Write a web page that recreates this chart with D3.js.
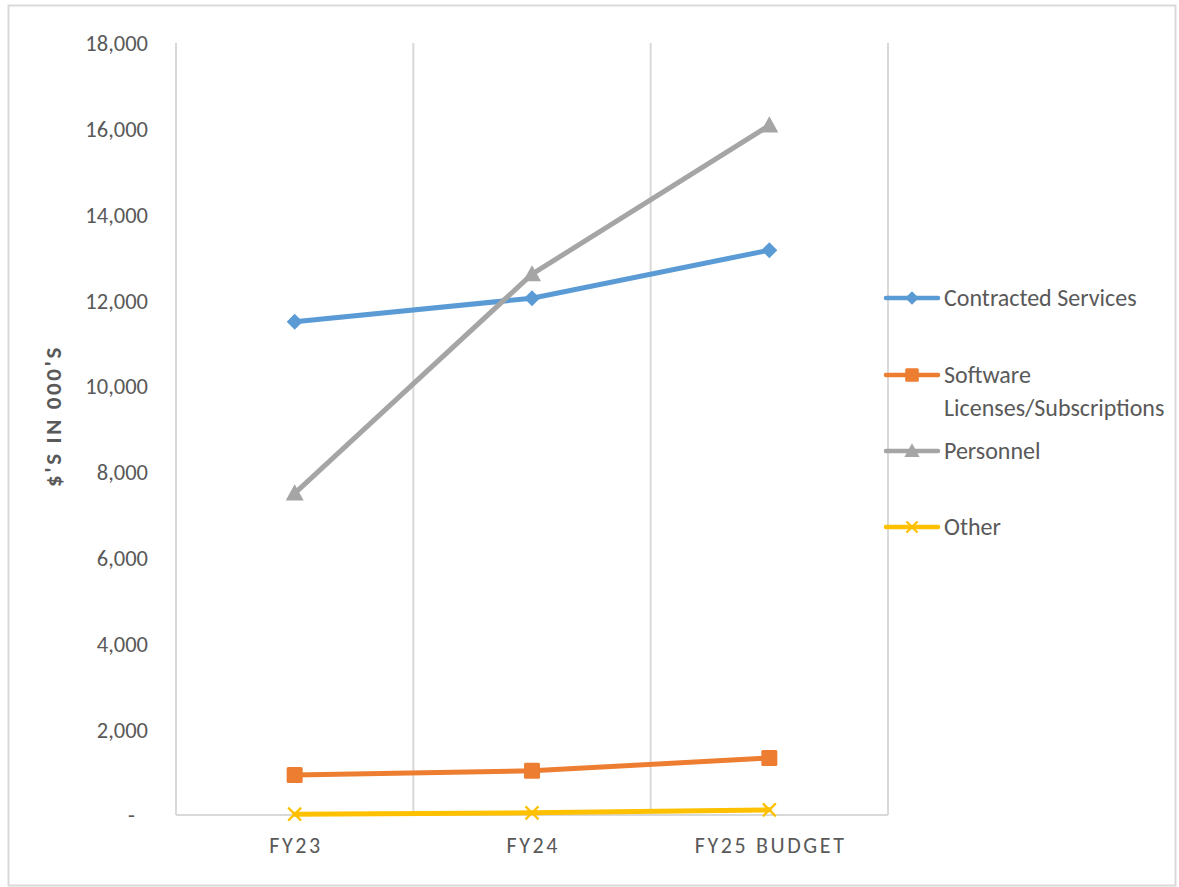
<!DOCTYPE html>
<html>
<head>
<meta charset="utf-8">
<script src="https://cdn.jsdelivr.net/npm/d3@7"></script>
<style>
  html, body { margin: 0; padding: 0; background: #fff; }
  svg { display: block; }
  .tick text { font-family: Carlito, Calibri, "Open Sans", "Liberation Sans", sans-serif; }
</style>
</head>
<body>
<svg id="chart" width="1179" height="887"></svg>
<script>
// Fiscal-year periods on the category axis
const periods = ["FY23", "FY24", "FY25 BUDGET"];

// Spending per category, $ in thousands
const contractedServices = [11500, 12050, 13170];
const softwareLicenses   = [930, 1030, 1330];
const personnel          = [7500, 12610, 16080];
const other              = [20, 50, 120];

const yTicks = [0, 2000, 4000, 6000, 8000, 10000, 12000, 14000, 16000, 18000];

const series = [
  { name: ["Contracted Services"], values: contractedServices, color: "#5B9BD5", marker: "diamond" },
  { name: ["Software", "Licenses/Subscriptions"], values: softwareLicenses, color: "#ED7D31", marker: "square" },
  { name: ["Personnel"], values: personnel, color: "#A5A5A5", marker: "triangle" },
  { name: ["Other"], values: other, color: "#FFC000", marker: "x" }
];

const svg = d3.select("#chart");
const font = 'Carlito, Calibri, "Open Sans", "Liberation Sans", sans-serif';

// Outer chart frame
svg.append("rect")
  .attr("x", 8.5).attr("y", 5.5)
  .attr("width", 1167).attr("height", 880)
  .attr("fill", "#fff").attr("stroke", "#D9D9D9").attr("stroke-width", 2);

const plot = { left: 176, right: 888, top: 43, bottom: 815 };

const x = d3.scaleBand().domain(periods).range([plot.left, plot.right]).padding(0);
const y = d3.scaleLinear().domain([0, 18000]).range([plot.bottom, plot.top]);

// Vertical category dividers
const dividers = [plot.left, ...periods.map(p => x(p) + x.bandwidth())];
svg.append("g").selectAll("line").data(dividers).join("line")
  .attr("x1", d => d).attr("x2", d => d)
  .attr("y1", plot.top).attr("y2", plot.bottom)
  .attr("stroke", "#D9D9D9").attr("stroke-width", 2);

// Category baseline
svg.append("line")
  .attr("x1", plot.left).attr("x2", plot.right)
  .attr("y1", plot.bottom).attr("y2", plot.bottom)
  .attr("stroke", "#D9D9D9").attr("stroke-width", 2);

// Y axis labels
const yAxis = d3.axisLeft(y).tickValues(yTicks).tickSize(0).tickPadding(0)
  .tickFormat(d => d === 0 ? "-" : d3.format(",")(d));
const yG = svg.append("g").attr("transform", `translate(${plot.left - 28},0)`).call(yAxis);
yG.select(".domain").remove();
yG.selectAll("text").attr("fill", "#595959").attr("font-size", 22.5)
  .attr("dy", "0.35em")
  .filter(d => d === 0).attr("dx", -13);

// X axis labels
const xAxis = d3.axisBottom(x).tickSize(0).tickPadding(0);
const xG = svg.append("g").attr("transform", `translate(0,${plot.bottom + 22})`).call(xAxis);
xG.select(".domain").remove();
xG.selectAll("text").attr("fill", "#595959").attr("font-size", 22)
  .attr("letter-spacing", "2.6px").attr("dy", "0.71em").attr("dx", "1.3px");

// Y axis title
svg.append("text")
  .attr("transform", `translate(61,416) rotate(-90)`)
  .attr("text-anchor", "middle")
  .attr("font-family", font).attr("font-size", 23).attr("font-weight", "bold")
  .attr("letter-spacing", "2.6px")
  .attr("fill", "#595959")
  .text("$'S IN 000'S");

const cx = p => x(p) + x.bandwidth() / 2;

function drawMarker(g, type, color, px, py, scale = 1) {
  if (type === "diamond") {
    const s = 8 * scale;
    g.append("path").attr("d", `M${px},${py - s}L${px + s},${py}L${px},${py + s}L${px - s},${py}Z`)
      .attr("fill", color);
  } else if (type === "square") {
    const s = 8 * scale;
    g.append("rect").attr("x", px - s).attr("y", py - s).attr("width", 2 * s).attr("height", 2 * s)
      .attr("rx", 1.5).attr("fill", color);
  } else if (type === "triangle") {
    const s = 9 * scale;
    g.append("path").attr("d", `M${px},${py - s}L${px + s},${py + s * 0.8}L${px - s},${py + s * 0.8}Z`)
      .attr("fill", color);
  } else if (type === "x") {
    const s = 6.5 * scale;
    g.append("path").attr("d", `M${px - s},${py - s}L${px + s},${py + s}M${px - s},${py + s}L${px + s},${py - s}`)
      .attr("stroke", color).attr("stroke-width", 2.2).attr("fill", "none");
  }
}

const line = d3.line().x((d, i) => cx(periods[i])).y(d => y(d));

// Series lines and markers
series.forEach(s => {
  const g = svg.append("g");
  g.append("path").datum(s.values).attr("d", line)
    .attr("fill", "none").attr("stroke", s.color).attr("stroke-width", 5)
    .attr("stroke-linejoin", "round").attr("stroke-linecap", "round");
  s.values.forEach((v, i) => drawMarker(g, s.marker, s.color, cx(periods[i]), y(v)));
});

// Legend
const legendY = [298, 375, 451, 527];
const lg = svg.append("g");
series.forEach((s, i) => {
  const ly = legendY[i];
  lg.append("line").attr("x1", 886).attr("x2", 938).attr("y1", ly).attr("y2", ly)
    .attr("stroke", s.color).attr("stroke-width", 4.5).attr("stroke-linecap", "round");
  drawMarker(lg, s.marker, s.color, 912, ly, 0.85);
  const t = lg.append("text").attr("x", 944).attr("y", ly)
    .attr("font-family", font).attr("font-size", 24).attr("fill", "#595959");
  s.name.forEach((n, j) => {
    t.append("tspan").attr("x", 944).attr("dy", j === 0 ? "0.35em" : "33px").text(n);
  });
});
</script>
</body>
</html>
